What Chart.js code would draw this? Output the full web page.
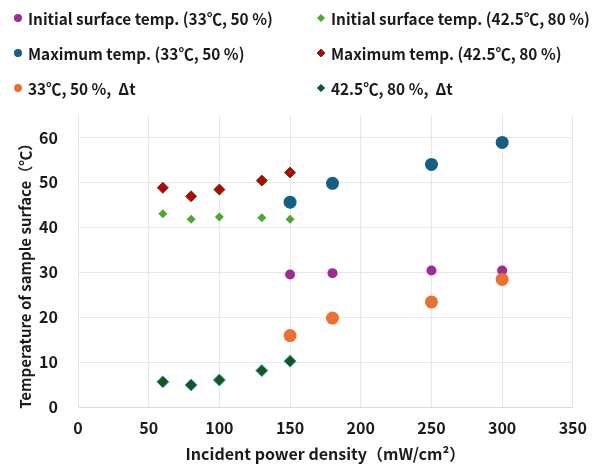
<!DOCTYPE html>
<html lang="en">
<head>
  <meta charset="UTF-8">
  <title>Sample surface temperature</title>
  <style>
    body {
      margin: 0;
      padding: 0;
      background: #fff;
      font-family: 'Noto Sans CJK JP', sans-serif;
      color: #1a1a1a;
    }
    .wrap {
      position: relative;
      width: 598px;
      height: 464px;
    }
    .legend {
      position: absolute;
      left: 0;
      top: 0;
      width: 598px;
      height: 105px;
    }
    .legend-item {
      position: absolute;
      display: flex;
      align-items: center;
      white-space: nowrap;
      line-height: 20px;
    }
    .legend-item span {
      display: inline-block;
      font-size: 16px;
      font-weight: 600;
      transform: scaleX(0.96);
      transform-origin: left center;
    }
    .legend-item canvas {
      margin-right: 3px;
    }
  </style>
  <script src="https://cdn.jsdelivr.net/npm/chart.js"></script>
</head>
<body>
  <div class="wrap">
    <canvas id="tempChart" width="598" height="464"></canvas>
    <div class="legend" id="legend"></div>
  </div>

  <script>
    // data
    const power33 = [150, 180, 250, 300];
    const initial33 = [29.5, 29.8, 30.4, 30.4];
    const max33 = [45.6, 49.8, 54.0, 58.9];
    const delta33 = [15.9, 19.8, 23.4, 28.4];

    const power42 = [60, 80, 100, 130, 150];
    const initial42 = [43.0, 41.8, 42.3, 42.1, 41.8];
    const max42 = [48.8, 46.9, 48.4, 50.4, 52.2];
    const delta42 = [5.6, 4.9, 6.0, 8.1, 10.2];

    const seriesLabels = [
      'Initial surface temp.\u00a0(33℃, 50 %)',
      'Initial surface temp.\u00a0(42.5℃, 80 %)',
      'Maximum temp.\u00a0(33℃, 50 %)',
      'Maximum temp.\u00a0(42.5℃, 80 %)',
      '33℃, 50 %,\u00a0 Δt',
      '42.5℃, 80 %,\u00a0 Δt'
    ];

    const toPoints = (xs, ys) => xs.map((x, i) => ({ x: x, y: ys[i] }));

    const datasets = [
      { label: seriesLabels[0], data: toPoints(power33, initial33), pointStyle: 'circle', pointRadius: 5,
        backgroundColor: '#A02B93', borderColor: '#A02B93', borderWidth: 0 },
      { label: seriesLabels[1], data: toPoints(power42, initial42), pointStyle: 'rectRot', pointRadius: 4.5,
        backgroundColor: '#4EA72E', borderColor: '#4EA72E', borderWidth: 0 },
      { label: seriesLabels[2], data: toPoints(power33, max33), pointStyle: 'circle', pointRadius: 6.5,
        backgroundColor: '#156082', borderColor: '#156082', borderWidth: 0 },
      { label: seriesLabels[3], data: toPoints(power42, max42), pointStyle: 'rectRot', pointRadius: 5.5,
        backgroundColor: '#C00000', borderColor: '#2B5218', borderWidth: 1 },
      { label: seriesLabels[4], data: toPoints(power33, delta33), pointStyle: 'circle', pointRadius: 6.5,
        backgroundColor: '#E97132', borderColor: '#E97132', borderWidth: 0 },
      { label: seriesLabels[5], data: toPoints(power42, delta42), pointStyle: 'rectRot', pointRadius: 6,
        backgroundColor: '#22511A', borderColor: '#19A9DE', borderWidth: 1 }
    ];
    // later series drawn on top, like the spreadsheet
    datasets.forEach((d, i) => { d.order = datasets.length - i; d.pointHoverRadius = d.pointRadius; });

    Chart.defaults.font.family = "'Noto Sans CJK JP', sans-serif";
    Chart.defaults.color = '#1a1a1a';

    const ctx = document.getElementById('tempChart').getContext('2d');
    const tempChart = new Chart(ctx, {
      type: 'scatter',
      data: { datasets: datasets },
      options: {
        responsive: false,
        animation: false,
        layout: { padding: { top: 115, right: 23, left: 0, bottom: 0 } },
        plugins: {
          legend: { display: false },
          tooltip: { enabled: false }
        },
        scales: {
          x: {
            type: 'linear',
            min: 0,
            max: 350,
            afterFit: (scale) => { scale.height = 57; },
            ticks: { stepSize: 50, padding: 11, font: { size: 16, weight: 'bold' } },
            grid: { color: '#e6e6e6', drawTicks: false },
            border: { color: '#d9d9d9' },
            title: {
              display: true,
              text: 'Incident power density（mW/cm²）',
              font: { size: 16, weight: 'bold' },
              padding: { top: 0, bottom: 0 }
            }
          },
          y: {
            min: 0,
            max: 65,
            afterFit: (scale) => { scale.width = 78; },
            ticks: { stepSize: 10, includeBounds: false, padding: 20, font: { size: 16, weight: 'bold' } },
            grid: { color: '#e6e6e6', drawTicks: false },
            border: { color: '#e6e6e6' },
            title: {
              display: true,
              // trailing spaces nudge the title down a little, as in the original
              text: 'Temperature of sample surface（℃）\u2003\u2002',
              font: { size: 15, weight: 'bold' },
              padding: { top: 16, bottom: 0 }
            }
          }
        }
      }
    });

    // two-column legend, built from the datasets
    const legendEl = document.getElementById('legend');
    const colX = [11, 314];
    const rowY = [8, 43, 78];
    datasets.forEach((d, i) => {
      const item = document.createElement('div');
      item.className = 'legend-item';
      item.style.left = colX[i % 2] + 'px';
      item.style.top = rowY[Math.floor(i / 2)] + 'px';
      const mark = document.createElement('canvas');
      mark.width = 14;
      mark.height = 14;
      const mctx = mark.getContext('2d');
      mctx.fillStyle = d.backgroundColor;
      mctx.strokeStyle = d.borderColor;
      mctx.lineWidth = d.borderWidth;
      Chart.helpers.drawPoint(mctx, { pointStyle: d.pointStyle, radius: 4, borderWidth: d.borderWidth }, 7, 7);
      item.appendChild(mark);
      const txt = document.createElement('span');
      txt.textContent = d.label;
      item.appendChild(txt);
      legendEl.appendChild(item);
    });
  </script>
</body>
</html>
